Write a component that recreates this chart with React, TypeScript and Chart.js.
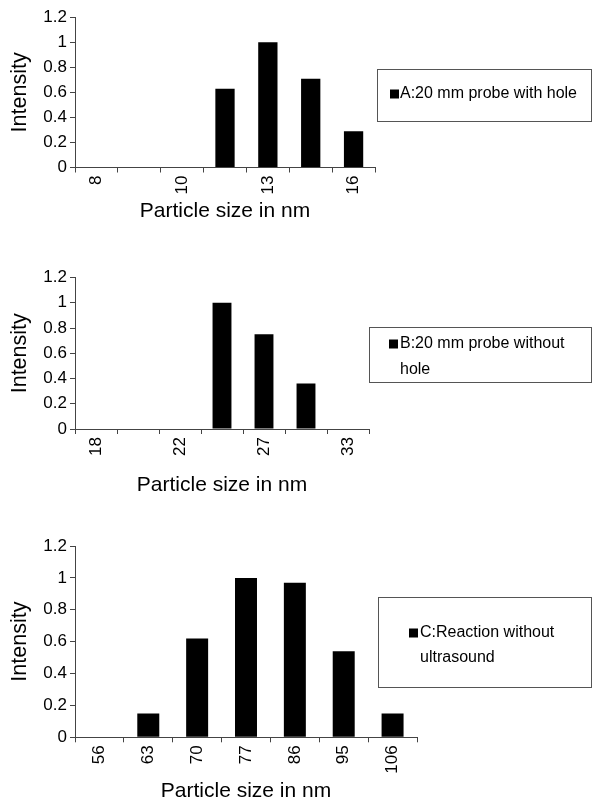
import { useEffect, useRef } from "react";
import { Chart, registerables } from "chart.js";

Chart.register(...registerables);

// ---- data ----
const sizesA = ["8", "9", "10", "11", "13", "14", "16"];
const intensityA = [0, 0, 0, 0.63, 1.0, 0.71, 0.29];
const legendA = ["A:20 mm probe with hole"];

const sizesB = ["18", "20", "22", "24", "27", "30", "33"];
const intensityB = [0, 0, 0, 1.0, 0.75, 0.36, 0];
const legendB = ["B:20 mm probe without", "hole"];

const sizesC = ["56", "63", "70", "77", "86", "95", "106"];
const intensityC = [0, 0.15, 0.62, 1.0, 0.97, 0.54, 0.15];
const legendC = ["C:Reaction without", "ultrasound"];

const yMin = 0;
const yMax = 1.2;
const yStep = 0.2;
const xTitle = "Particle size in nm";
const yTitle = "Intensity";

// ---- layout (positions / styles) ----
const FAMILY = '"Liberation Sans", Arial, Helvetica, sans-serif';
const W = 592;
const AXIS = "#444";

type Layout = {
  top: number;
  height: number;
  area: { left: number; right: number; top: number; bottom: number };
  titleY: number;
  labelEvery: number;
  box: { x: number; y: number; w: number; h: number };
  lineY: number[];
  squareX: number;
  textX: number;
};

const layoutA: Layout = {
  top: 0,
  height: 245,
  area: { left: 75, right: 375, top: 17.3, bottom: 167.5 },
  titleY: 211.7,
  labelEvery: 2,
  box: { x: 377, y: 69, w: 214, h: 52 },
  lineY: [94],
  squareX: 390,
  textX: 400,
};

const layoutB: Layout = {
  top: 245,
  height: 270,
  area: { left: 75, right: 369, top: 32.5, bottom: 184 },
  titleY: 240,
  labelEvery: 2,
  box: { x: 369, y: 81.7, w: 222, h: 55 },
  lineY: [99, 125],
  squareX: 389,
  textX: 400,
};

const layoutC: Layout = {
  top: 515,
  height: 287,
  area: { left: 75, right: 417, top: 31, bottom: 222.3 },
  titleY: 276.7,
  labelEvery: 1,
  box: { x: 377.5, y: 82.3, w: 213, h: 90 },
  lineY: [118, 143],
  squareX: 409,
  textX: 420,
};

function Panel({
  labels,
  values,
  legend,
  layout,
}: {
  labels: string[];
  values: number[];
  legend: string[];
  layout: Layout;
}) {
  const ref = useRef<HTMLCanvasElement>(null);

  useEffect(() => {
    if (!ref.current) return;
    const H = layout.height;
    const a = layout.area;
    const xTitleSize = 21;
    const yTitleSize = 21.5;

    const boxLegend = {
      id: "boxLegend",
      afterDraw(chart: any) {
        const ctx = chart.ctx as CanvasRenderingContext2D;
        const b = layout.box;
        ctx.save();
        ctx.strokeStyle = "#555";
        ctx.lineWidth = 1;
        ctx.strokeRect(Math.round(b.x) + 0.5, Math.round(b.y) + 0.5, Math.round(b.w), Math.round(b.h));
        ctx.fillStyle = "#000";
        ctx.fillRect(layout.squareX, layout.lineY[0] - 4.5, 9, 9);
        ctx.font = `16px ${FAMILY}`;
        ctx.textAlign = "left";
        ctx.textBaseline = "middle";
        legend.forEach((t, i) => ctx.fillText(t, layout.textX, layout.lineY[i]));
        ctx.restore();
      },
    };

    const chart = new Chart(ref.current, {
      type: "bar",
      data: {
        labels,
        datasets: [
          {
            label: legend.join(" "),
            data: values,
            backgroundColor: "#000",
            borderWidth: 0,
            barPercentage: 0.45,
            categoryPercentage: 1,
          },
        ],
      },
      options: {
        responsive: false,
        animation: false,
        devicePixelRatio: 1,
        layout: { padding: { left: 0, top: a.top, right: W - a.right, bottom: 0 } },
        plugins: { legend: { display: false }, tooltip: { enabled: false } },
        scales: {
          x: {
            grid: {
              offset: true,
              drawOnChartArea: false,
              drawTicks: true,
              tickLength: 5,
              color: AXIS,
            },
            border: { display: true, color: AXIS, width: 1 },
            ticks: {
              autoSkip: false,
              minRotation: 90,
              maxRotation: 90,
              padding: 3,
              color: "#000",
              font: { family: FAMILY, size: 17 },
              callback: (_v: any, i: number) => (i % layout.labelEvery === 0 ? labels[i] : ""),
            },
            title: {
              display: true,
              text: xTitle,
              color: "#000",
              font: { family: FAMILY, size: xTitleSize, lineHeight: 1 },
              padding: { top: 0, bottom: H - layout.titleY - xTitleSize / 2 },
            },
            afterFit: (s: any) => {
              s.height = H - a.bottom;
            },
          },
          y: {
            min: yMin,
            max: yMax,
            grid: {
              drawOnChartArea: false,
              drawTicks: true,
              tickLength: 5,
              color: AXIS,
            },
            border: { display: true, color: AXIS, width: 1 },
            ticks: {
              stepSize: yStep,
              padding: 3,
              color: "#000",
              font: { family: FAMILY, size: 17 },
              callback: (v: any) => String(Math.round(Number(v) * 10) / 10),
            },
            title: {
              display: true,
              text: yTitle,
              color: "#000",
              font: { family: FAMILY, size: yTitleSize, lineHeight: 1 },
              padding: { top: 20 - yTitleSize / 2, bottom: 0 },
            },
            afterFit: (s: any) => {
              s.width = a.left;
            },
          },
        },
      } as any,
      plugins: [boxLegend],
    });
    return () => chart.destroy();
  }, []);

  return (
    <canvas
      ref={ref}
      width={W}
      height={layout.height}
      style={{ position: "absolute", left: 0, top: layout.top, display: "block" }}
    />
  );
}

export default function App() {
  return (
    <div
      style={{
        position: "absolute",
        left: 0,
        top: 0,
        width: W,
        height: 802,
        background: "#fff",
        overflow: "hidden",
      }}
    >
      <Panel labels={sizesA} values={intensityA} legend={legendA} layout={layoutA} />
      <Panel labels={sizesB} values={intensityB} legend={legendB} layout={layoutB} />
      <Panel labels={sizesC} values={intensityC} legend={legendC} layout={layoutC} />
    </div>
  );
}
